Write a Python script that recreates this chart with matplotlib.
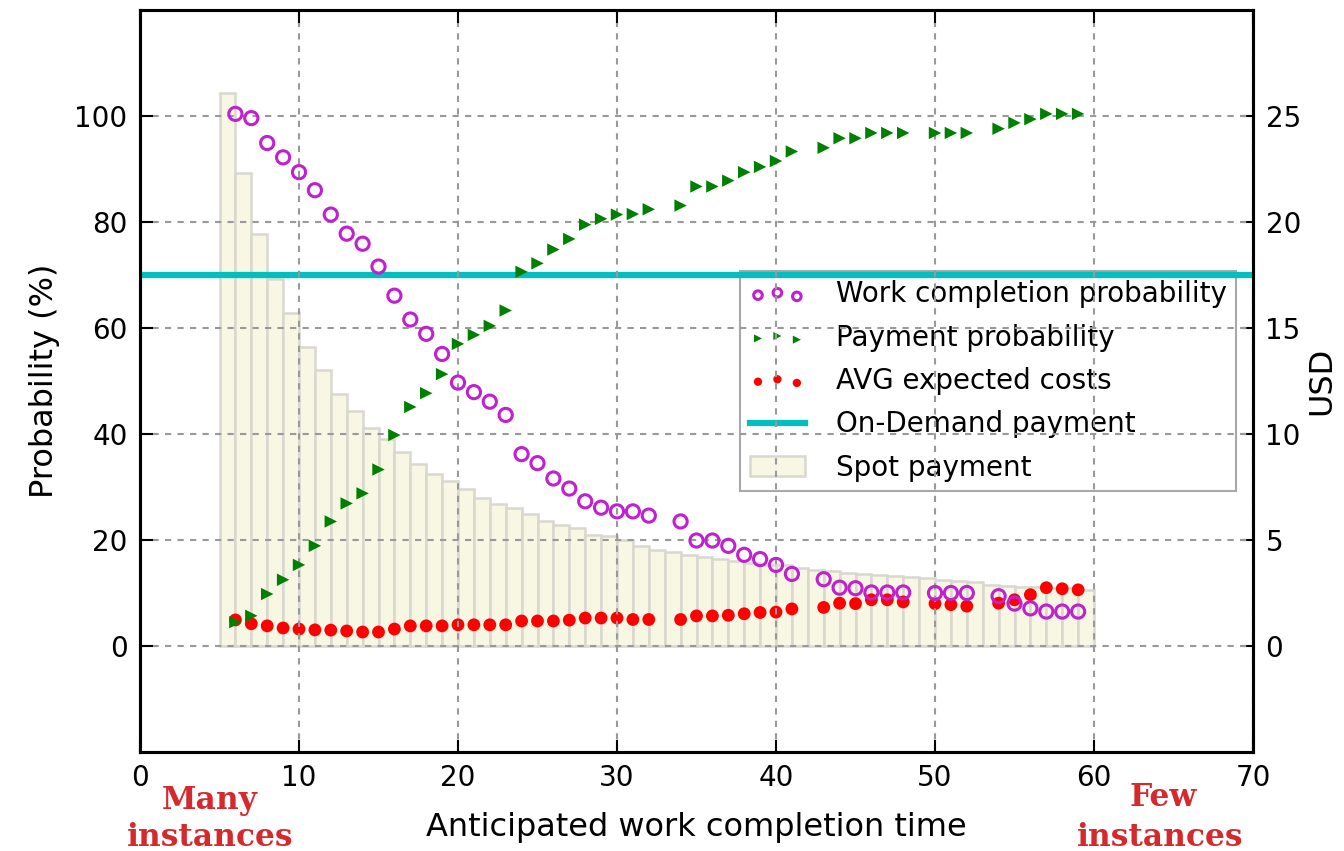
import numpy as np
import matplotlib
matplotlib.use("Agg")
import matplotlib.pyplot as plt

# ---- data ----
t_bars = list(range(5, 60))
spot_usd = [26.1, 22.3, 19.45, 17.3, 15.7, 14.1, 13.0, 11.9, 11.1, 10.3,
            9.75, 9.15, 8.6, 8.1, 7.8, 7.4, 7.0, 6.7, 6.5, 6.25,
            5.9, 5.7, 5.55, 5.25, 5.2, 5.0, 4.7, 4.55, 4.45, 4.3,
            4.2, 4.1, 4.0, 3.9, 3.8, 3.8, 3.7, 3.6, 3.55, 3.45,
            3.4, 3.35, 3.3, 3.25, 3.2, 3.1, 3.05, 3.0, 2.9, 2.85,
            2.8, 2.78, 2.75, 2.72, 2.65]

t_pts = (list(range(6, 33)) + list(range(34, 42)) + list(range(43, 49))
         + list(range(50, 53)) + list(range(54, 60)))
completion = [100.4, 99.6, 94.9, 92.2, 89.4, 86.0, 81.4, 77.8, 75.9, 71.6,
              66.1, 61.6, 58.9, 55.1, 49.7, 47.9, 46.1, 43.6, 36.2, 34.5,
              31.6, 29.7, 27.3, 26.1, 25.4, 25.4, 24.6,
              23.5, 19.9, 19.9, 18.9, 17.2, 16.4, 15.3, 13.6,
              12.6, 11.0, 10.9, 10.1, 10.1, 10.1,
              10.0, 10.0, 10.0,
              9.4, 8.0, 7.1, 6.5, 6.5, 6.5]
payment = [4.5, 5.7, 9.8, 12.5, 15.3, 18.9, 23.5, 26.9, 28.8, 33.3,
           39.8, 45.1, 47.7, 51.3, 57.0, 58.7, 60.4, 63.3, 70.6, 72.2,
           74.8, 76.8, 79.5, 80.6, 81.4, 81.5, 82.4,
           83.1, 86.7, 86.7, 87.8, 89.4, 90.4, 91.5, 93.3,
           94.0, 95.8, 95.8, 96.8, 96.8, 96.8,
           96.8, 96.8, 96.8,
           97.6, 98.7, 99.4, 100.4, 100.4, 100.4]
avg_cost_usd = [1.23, 1.05, 0.95, 0.85, 0.8, 0.76, 0.75, 0.71, 0.66, 0.66,
                0.8, 0.95, 0.95, 0.95, 1.0, 1.0, 1.0, 1.0, 1.18, 1.18,
                1.18, 1.22, 1.32, 1.32, 1.32, 1.25, 1.25,
                1.25, 1.42, 1.42, 1.45, 1.52, 1.58, 1.6, 1.75,
                1.82, 2.02, 2.0, 2.18, 2.18, 2.08,
                2.0, 1.95, 1.88,
                2.02, 2.18, 2.42, 2.75, 2.7, 2.65]
on_demand_usd = 17.5

plt.rcParams["font.family"] = "DejaVu Sans"

fig = plt.figure(figsize=(13.44, 8.51), dpi=100)
ax1 = fig.add_axes([140/1344, 1-752/851, (1253-140)/1344, (752-10)/851])
ax2 = ax1.twinx()
ax1.set_zorder(ax2.get_zorder() + 1)
ax1.patch.set_visible(False)

##### USD side: spot bars, costs, on-demand line #####
bars = ax2.bar(t_bars, spot_usd, width=1.0, align='edge', color='#f7f7e4',
               edgecolor='#d8d8cf', linewidth=1.8, label='Spot payment', zorder=1)
red = ax2.scatter(t_pts, avg_cost_usd, s=85, color='#ff0000', edgecolors='none',
                  label='AVG expected costs', zorder=3)
cyan = ax2.axhline(on_demand_usd, color='#00bfbf', lw=4.5,
                   label='On-Demand payment', zorder=6)

##### Probability side #####
mag = ax1.scatter(t_pts, completion, s=90, facecolors='none', edgecolors='#c020d0',
                  linewidths=2.2, label='Work completion probability', zorder=4)
grn = ax1.scatter(t_pts, payment, s=80, marker='>', color='#008000',
                  edgecolors='none', label='Payment probability', zorder=4)

ax1.set_xlim(0, 70)
ax1.set_ylim(-20, 120)
ax2.set_ylim(-5, 30)
ax1.set_xticks(range(0, 71, 10))
ax1.set_yticks(range(0, 101, 20))
ax2.set_yticks(range(0, 26, 5))

ax1.grid(True, color='#999999', linestyle=(0, (3, 3)), linewidth=1.5)
ax1.tick_params(axis='both', direction='in', length=9, width=1.5, labelsize=20,
                pad=9, top=True)
ax2.tick_params(axis='y', direction='in', length=8, width=1.5, labelsize=20, pad=9)
for ax in (ax1, ax2):
    for sp in ax.spines.values():
        sp.set_linewidth(2.2)

ax1.set_xlabel("Anticipated work completion time", fontsize=23, labelpad=14)
ax1.set_ylabel("Probability (%)", fontsize=23, labelpad=10)
ax2.set_ylabel("USD", fontsize=23, labelpad=4)

leg = ax2.legend([mag, grn, red, cyan, bars],
                 ['Work completion probability', 'Payment probability',
                  'AVG expected costs', 'On-Demand payment', 'Spot payment'],
                 loc='center right', fontsize=20, scatterpoints=3,
                 scatteryoffsets=[0.375, 0.5, 0.3125], markerscale=0.65,
                 handlelength=2.0, handletextpad=1.1, borderaxespad=0.6,
                 labelspacing=0.55, fancybox=False, framealpha=1.0, borderpad=0.35)
leg.get_frame().set_edgecolor('#a8a8a8')
leg.get_frame().set_linewidth(1.5)

red_txt = '#d42a2e'
fig.text(210/1344, 1-800/851, "Many", color=red_txt, fontsize=22.5,
         fontweight='bold', family='DejaVu Serif', ha='center', va='center')
fig.text(210/1344, 1-838/851, "instances", color=red_txt, fontsize=22.5,
         fontweight='bold', family='DejaVu Serif', ha='center', va='center')
fig.text(1163/1344, 1-798/851, "Few", color=red_txt, fontsize=22.5,
         fontweight='bold', family='DejaVu Serif', ha='center', va='center')
fig.text(1160/1344, 1-838/851, "instances", color=red_txt, fontsize=22.5,
         fontweight='bold', family='DejaVu Serif', ha='center', va='center')

fig.savefig('out.png', dpi=100, facecolor='white')
